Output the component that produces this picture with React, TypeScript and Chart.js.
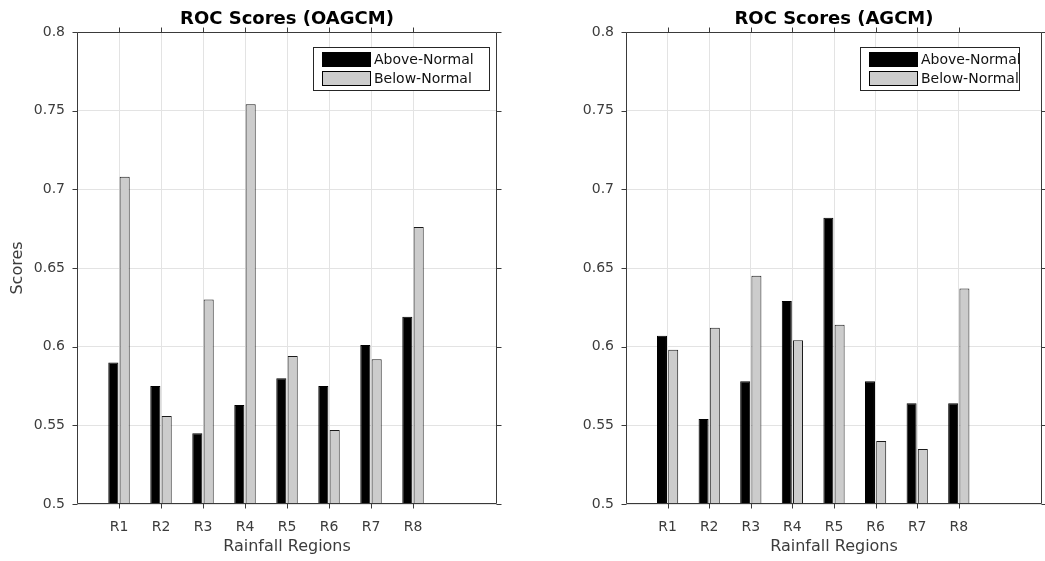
import React, { useEffect, useRef } from 'react';
import { Chart, registerables } from 'chart.js';

Chart.register(...registerables);

// ---------- data ----------
const REGIONS = ['R1', 'R2', 'R3', 'R4', 'R5', 'R6', 'R7', 'R8'];
// x axis spans 0..10 with R1..R8 at 1..8
const X_AXIS_LABELS = ['', 'R1', 'R2', 'R3', 'R4', 'R5', 'R6', 'R7', 'R8', '', ''];
const SERIES_NAMES = ['Above-Normal', 'Below-Normal'];

const OAGCM_ABOVE = [0.590, 0.575, 0.545, 0.563, 0.580, 0.575, 0.601, 0.619];
const OAGCM_BELOW = [0.708, 0.556, 0.630, 0.754, 0.594, 0.547, 0.592, 0.676];

const AGCM_ABOVE = [0.607, 0.554, 0.578, 0.629, 0.682, 0.578, 0.564, 0.564];
const AGCM_BELOW = [0.598, 0.612, 0.645, 0.604, 0.614, 0.540, 0.535, 0.637];

const Y_TICKS = [0.5, 0.55, 0.6, 0.65, 0.7, 0.75, 0.8];
const Y_MIN = 0.5;
const Y_MAX = 0.8;

// ---------- styles ----------
const FONT = '"DejaVu Sans", sans-serif';
const AXIS_COLOR = '#3a3a3a';
const TICK_COLOR = '#3c3c3c';
const GRID_COLOR = '#e3e3e3';
const ABOVE_COLOR = '#000000';
const BELOW_COLOR = '#cccccc';

Chart.defaults.font.family = FONT;

const padSeries = (vals: number[]) =>
  X_AXIS_LABELS.map((l) => {
    const i = REGIONS.indexOf(l);
    return i >= 0 ? vals[i] : null;
  });

const framePlugin = {
  id: 'matlabFrame',
  afterDatasetsDraw(chart: any, _args: any, opts: any) {
    const { ctx, chartArea: a, scales } = chart;
    ctx.save();
    ctx.strokeStyle = AXIS_COLOR;
    ctx.lineWidth = 1;
    // frame
    const L = Math.round(a.left) + 0.5;
    const R = Math.round(a.right) - 0.5;
    const T = Math.round(a.top) + 0.5;
    const B = Math.round(a.bottom) - 0.5;
    ctx.beginPath();
    ctx.moveTo(L, T);
    ctx.lineTo(R, T);
    ctx.lineTo(R, B);
    ctx.lineTo(L, B);
    ctx.closePath();
    ctx.stroke();
    // tick marks (outward, all four sides)
    const TL = 5;
    ctx.beginPath();
    X_AXIS_LABELS.forEach((lab, i) => {
      if (!lab) return;
      const px = Math.round(scales.x.getPixelForValue(i)) + 0.5;
      ctx.moveTo(px, B);
      ctx.lineTo(px, B + TL);
      ctx.moveTo(px, T);
      ctx.lineTo(px, T - TL);
    });
    Y_TICKS.forEach((v) => {
      const py = Math.round(scales.y.getPixelForValue(v)) + 0.5;
      ctx.moveTo(L, py);
      ctx.lineTo(L - TL, py);
      ctx.moveTo(R, py);
      ctx.lineTo(R + TL, py);
    });
    ctx.stroke();

    // title
    ctx.fillStyle = '#000';
    ctx.font = `bold 18px ${FONT}`;
    ctx.textAlign = 'center';
    ctx.textBaseline = 'alphabetic';
    ctx.fillText(opts.title, (a.left + a.right) / 2, 24);

    // legend
    const boxRight = Math.round(a.right - opts.legendRight);
    const boxLeft = boxRight - opts.legendWidth;
    const boxTop = Math.round(a.top + 15);
    const boxH = 43;
    ctx.fillStyle = '#ffffff';
    ctx.fillRect(boxLeft, boxTop, opts.legendWidth, boxH);
    ctx.strokeStyle = '#262626';
    ctx.strokeRect(boxLeft + 0.5, boxTop + 0.5, opts.legendWidth, boxH);
    ctx.font = `14px ${FONT}`;
    ctx.textAlign = 'left';
    ctx.textBaseline = 'middle';
    chart.data.datasets.forEach((ds: any, k: number) => {
      const sy = boxTop + 5 + k * 19;
      ctx.fillStyle = ds.backgroundColor;
      ctx.fillRect(boxLeft + 9, sy, 48, 14);
      ctx.strokeStyle = '#000';
      ctx.strokeRect(boxLeft + 9.5, sy + 0.5, 48, 14);
      ctx.fillStyle = '#111';
      ctx.fillText(ds.label, boxLeft + 61, sy + 8);
    });
    ctx.restore();
  },
};

type Props = {
  title: string;
  above: number[];
  below: number[];
  yTitle?: string;
  left: number;
  width: number;
  yAxisWidth: number;
  padRight: number;
  legendRight: number;
  legendWidth: number;
};

function RocChart(p: Props) {
  const ref = useRef<HTMLCanvasElement | null>(null);
  useEffect(() => {
    const barOpts = { borderWidth: 1, categoryPercentage: 0.54, barPercentage: 0.89 };
    const chart = new Chart(ref.current as HTMLCanvasElement, {
      type: 'bar',
      data: {
        labels: X_AXIS_LABELS,
        datasets: [
          {
            label: SERIES_NAMES[0],
            data: padSeries(p.above),
            backgroundColor: ABOVE_COLOR,
            borderColor: '#000',
            ...barOpts,
          },
          {
            label: SERIES_NAMES[1],
            data: padSeries(p.below),
            backgroundColor: BELOW_COLOR,
            borderColor: '#1a1a1a',
            ...barOpts,
          },
        ],
      } as any,
      options: {
        responsive: false,
        animation: false,
        devicePixelRatio: 1,
        layout: { padding: { left: 0, top: 32, right: p.padRight, bottom: 0 } },
        plugins: {
          legend: { display: false },
          title: { display: false },
          tooltip: { enabled: false },
          matlabFrame: { title: p.title, legendRight: p.legendRight, legendWidth: p.legendWidth },
        } as any,
        scales: {
          x: {
            type: 'category',
            offset: false,
            grid: {
              offset: false,
              drawTicks: false,
              color: (c: any) => (X_AXIS_LABELS[c.index] ? GRID_COLOR : 'rgba(0,0,0,0)'),
            },
            border: { display: false },
            ticks: {
              autoSkip: false,
              maxRotation: 0,
              minRotation: 0,
              padding: 15,
              color: TICK_COLOR,
              font: { size: 14 },
            },
            title: {
              display: true,
              text: 'Rainfall Regions',
              color: TICK_COLOR,
              font: { size: 16 },
              padding: { top: 0, bottom: 5 },
            },
            afterFit: (s: any) => {
              s.height = 57;
              s.paddingLeft = 0;
              s.paddingRight = 0;
            },
          },
          y: {
            type: 'linear',
            min: Y_MIN,
            max: Y_MAX,
            beginAtZero: false,
            afterBuildTicks: (s: any) => {
              s.ticks = Y_TICKS.map((v) => ({ value: v }));
            },
            grid: { color: GRID_COLOR, drawTicks: false },
            border: { display: false },
            ticks: {
              padding: 12,
              color: TICK_COLOR,
              font: { size: 14 },
              callback: (v: any) => String(Number(Number(v).toFixed(2))),
            },
            title: {
              display: !!p.yTitle,
              text: p.yTitle || '',
              color: TICK_COLOR,
              font: { size: 16 },
              padding: { top: 8, bottom: 0 },
            },
            afterFit: (s: any) => {
              s.width = p.yAxisWidth;
              s.paddingTop = 0;
              s.paddingBottom = 0;
            },
          },
        },
      } as any,
      plugins: [framePlugin as any],
    });
    return () => chart.destroy();
  }, []);
  return (
    <canvas
      ref={ref}
      width={p.width}
      height={561}
      style={{ position: 'absolute', left: p.left, top: 0, width: p.width, height: 561 }}
    />
  );
}

export default function App() {
  return (
    <div style={{ position: 'absolute', left: 0, top: 0, width: 1045, height: 561, background: '#fff', overflow: 'hidden' }}>
      <RocChart
        title="ROC Scores (OAGCM)"
        above={OAGCM_ABOVE}
        below={OAGCM_BELOW}
        yTitle="Scores"
        left={0}
        width={520}
        yAxisWidth={77}
        padRight={23}
        legendRight={8}
        legendWidth={176}
      />
      <RocChart
        title="ROC Scores (AGCM)"
        above={AGCM_ABOVE}
        below={AGCM_BELOW}
        left={520}
        width={525}
        yAxisWidth={106}
        padRight={3}
        legendRight={23}
        legendWidth={159}
      />
    </div>
  );
}
